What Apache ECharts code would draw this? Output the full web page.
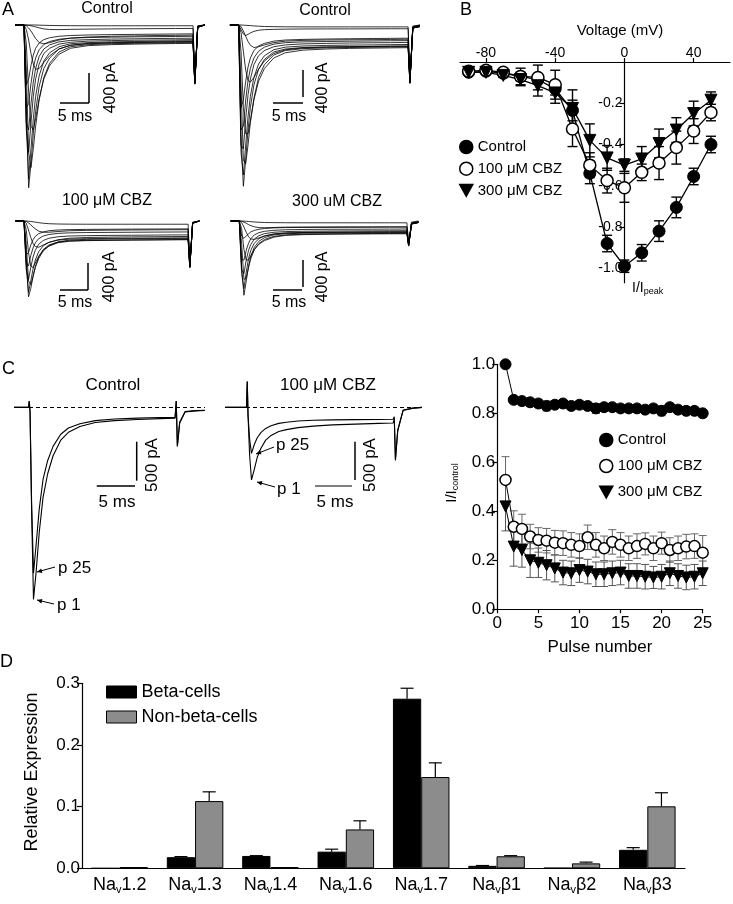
<!DOCTYPE html>
<html><head><meta charset="utf-8">
<script src="https://cdn.jsdelivr.net/npm/echarts@6/dist/echarts.min.js"></script>
<style>html,body{margin:0;padding:0;background:#fff}#c{width:733px;height:904px}</style>
</head><body><div id="c"></div>
<script>
// ---------------- DATA ----------------
// Panel A: Na+ current families (time in ms from step onset, current in pA)
const T_A = [-1.5, 0, 0.4, 0.8, 1.2, 1.6, 2.0, 2.6, 3.4, 4.4, 6, 8, 11, 15, 19, 23, 26, 29, 29.3, 29.8, 31];
const A_CTRL1 = [
  [0,0,-1100,-2170,-1850,-1450,-1150,-820,-580,-440,-320,-270,-250,-240,-235,-230,-228,-225,-790,-30,0],
  [0,0,-1300,-2050,-1650,-1250,-950,-680,-480,-370,-290,-250,-235,-225,-220,-215,-212,-210,-780,-30,0],
  [0,0,-600,-1700,-1900,-1650,-1350,-1000,-700,-510,-360,-290,-262,-250,-244,-240,-237,-235,-785,-30,0],
  [0,0,-1400,-1700,-1300,-950,-720,-520,-380,-310,-255,-230,-215,-208,-203,-200,-198,-195,-775,-30,0],
  [0,0,-1300,-1400,-1050,-760,-580,-420,-320,-265,-225,-205,-195,-188,-184,-180,-178,-176,-770,-25,0],
  [0,0,-1100,-1050,-780,-570,-440,-330,-260,-220,-190,-175,-167,-162,-158,-155,-153,-150,-765,-25,0],
  [0,0,-250,-900,-1350,-1400,-1250,-980,-720,-540,-390,-310,-275,-262,-255,-250,-247,-245,-785,-30,0],
  [0,0,-800,-720,-540,-400,-310,-240,-195,-170,-150,-140,-133,-128,-125,-122,-120,-118,-760,-20,0],
  [0,0,-60,-200,-380,-520,-590,-580,-500,-410,-320,-270,-245,-235,-230,-225,-222,-220,-770,-25,0],
  [0,0,-10,-40,-80,-130,-180,-235,-250,-235,-200,-175,-160,-150,-145,-140,-138,-135,-760,-20,0],
  [0,0,0,-5,-10,-18,-25,-38,-52,-60,-62,-58,-55,-52,-50,-48,-47,-46,-750,-15,0],
  [0,0,0,0,0,0,0,-2,-4,-6,-8,-9,-10,-10,-10,-10,-10,-10,-740,-10,0]
];
const A_CTRL2 = [
  [0,0,-1500,-2150,-1800,-1400,-1100,-800,-590,-460,-360,-320,-300,-292,-288,-285,-282,-280,-770,-40,-20],
  [0,0,-1700,-2000,-1600,-1220,-950,-700,-520,-410,-330,-295,-280,-272,-268,-265,-262,-260,-760,-40,-20],
  [0,0,-800,-1800,-1850,-1600,-1300,-980,-700,-530,-400,-340,-315,-305,-300,-296,-293,-290,-775,-40,-20],
  [0,0,-1600,-1650,-1250,-930,-720,-530,-410,-340,-290,-265,-252,-245,-240,-237,-235,-232,-755,-35,-15],
  [0,0,-1400,-1350,-1000,-740,-580,-440,-350,-295,-255,-235,-225,-220,-216,-213,-210,-208,-750,-35,-15],
  [0,0,-350,-1100,-1450,-1450,-1280,-1000,-750,-580,-440,-370,-335,-320,-312,-308,-305,-302,-780,-40,-20],
  [0,0,-1100,-1000,-750,-560,-440,-340,-280,-245,-215,-200,-192,-187,-183,-180,-178,-176,-745,-30,-10],
  [0,0,-100,-350,-600,-740,-760,-700,-590,-480,-380,-330,-305,-295,-290,-286,-284,-282,-770,-40,-20],
  [0,0,-20,-80,-150,-220,-270,-300,-290,-265,-235,-215,-205,-200,-197,-195,-193,-190,-760,-30,-10],
  [0,0,-60,-120,-140,-125,-105,-85,-70,-62,-58,-55,-53,-52,-52,-51,-50,-50,-740,-20,0],
  [0,0,0,-2,-4,-6,-8,-12,-16,-20,-22,-24,-25,-25,-25,-25,-25,-25,-735,-15,0]
];
const A_CBZ100 = [
  [0,0,-500,-1010,-900,-740,-610,-480,-380,-320,-280,-265,-258,-255,-252,-250,-248,-246,-620,-30,0],
  [0,0,-600,-950,-800,-640,-520,-410,-330,-285,-255,-242,-236,-232,-230,-228,-226,-225,-615,-30,0],
  [0,0,-300,-800,-850,-740,-620,-500,-400,-335,-290,-270,-262,-258,-255,-253,-251,-250,-620,-30,0],
  [0,0,-650,-780,-620,-480,-390,-310,-260,-230,-210,-200,-195,-192,-190,-188,-186,-185,-610,-25,0],
  [0,0,-550,-600,-460,-360,-290,-235,-200,-180,-165,-158,-154,-152,-150,-148,-147,-146,-605,-25,0],
  [0,0,-120,-420,-600,-620,-560,-470,-390,-330,-280,-255,-245,-240,-237,-235,-233,-232,-615,-30,0],
  [0,0,-450,-420,-320,-250,-205,-170,-145,-130,-120,-115,-112,-110,-108,-107,-106,-105,-600,-20,0],
  [0,0,-30,-120,-220,-300,-340,-350,-320,-285,-250,-230,-220,-215,-212,-210,-208,-206,-610,-25,0],
  [0,0,-5,-25,-50,-80,-105,-135,-150,-150,-140,-130,-125,-122,-120,-118,-117,-116,-600,-20,0],
  [0,0,0,-3,-6,-10,-15,-22,-30,-36,-40,-42,-43,-43,-43,-43,-43,-43,-595,-15,0]
];
const A_CBZ300 = [
  [0,0,-600,-990,-800,-600,-470,-350,-270,-220,-185,-170,-163,-160,-158,-156,-155,-154,-330,-40,-20],
  [0,0,-700,-900,-680,-500,-390,-295,-235,-198,-172,-160,-154,-151,-149,-147,-146,-145,-325,-40,-20],
  [0,0,-300,-780,-760,-620,-500,-380,-300,-245,-205,-185,-176,-172,-169,-167,-166,-165,-335,-40,-20],
  [0,0,-650,-700,-520,-390,-310,-240,-195,-168,-150,-141,-137,-134,-132,-131,-130,-129,-320,-35,-15],
  [0,0,-520,-520,-390,-295,-235,-185,-155,-137,-124,-117,-113,-111,-110,-109,-108,-107,-315,-35,-15],
  [0,0,-100,-380,-520,-520,-460,-380,-310,-260,-215,-192,-182,-177,-174,-172,-171,-170,-330,-40,-20],
  [0,0,-200,-230,-200,-170,-145,-125,-110,-100,-92,-88,-86,-85,-84,-83,-82,-82,-310,-30,-10],
  [0,0,-20,-80,-150,-210,-240,-245,-225,-200,-175,-160,-153,-150,-148,-146,-145,-144,-320,-35,-15],
  [0,0,-3,-15,-30,-48,-62,-78,-88,-90,-86,-82,-80,-79,-78,-78,-77,-77,-305,-25,-5],
  [0,0,0,-2,-4,-6,-9,-13,-17,-20,-22,-23,-24,-24,-24,-24,-24,-24,-300,-15,0]
];

// Panel B: I-V relationship
const B_VOLT = [-90,-80,-70,-60,-50,-40,-30,-20,-10,0,10,20,30,40,50];
const B_CTRL = [-0.05,-0.045,-0.055,-0.07,-0.085,-0.13,-0.235,-0.54,-0.88,-0.99,-0.925,-0.82,-0.705,-0.555,-0.40];
const B_CTRL_ERR = [0.01,0.01,0.01,0.02,0.02,0.03,0.05,0.05,0.04,0.03,0.04,0.05,0.05,0.04,0.04];
const B_CBZ100 = [-0.045,-0.04,-0.05,-0.07,-0.075,-0.11,-0.325,-0.50,-0.575,-0.61,-0.535,-0.49,-0.415,-0.335,-0.245];
const B_CBZ100_ERR = [0.01,0.01,0.01,0.04,0.06,0.07,0.085,0.06,0.06,0.07,0.04,0.08,0.08,0.06,0.04];
const B_CBZ300 = [-0.05,-0.05,-0.065,-0.085,-0.115,-0.15,-0.225,-0.38,-0.465,-0.50,-0.47,-0.395,-0.33,-0.25,-0.185];
const B_CBZ300_ERR = [0.01,0.01,0.01,0.03,0.05,0.05,0.09,0.08,0.06,0.03,0.06,0.07,0.06,0.06,0.04];
const B_X_TICKS = [-80,-40,0,40];
const B_Y_TICKS = [-1.0,-0.8,-0.6,-0.4,-0.2];

// Panel C: example traces (pulse 1 and pulse 25)
const T_C = [-3,-0.2,-0.1,0,0.2,0.45,0.8,1.2,1.7,2.3,3,4,5,6.5,8.5,11,14,17,18.9,19.05,19.2,19.5,20.2,21.5,22.8];
const C_CTRL_P1  = [0,0,80,-60,-1300,-2460,-2100,-1600,-1150,-850,-620,-420,-320,-245,-195,-170,-155,-145,-140,80,-500,-200,-60,-45,-40];
const C_CTRL_P25 = [0,0,80,-60,-1200,-2125,-1750,-1300,-920,-680,-500,-345,-265,-210,-170,-150,-138,-130,-128,80,-490,-190,-55,-42,-38];
const C_CBZ_P1   = [0,0,330,-100,-600,-930,-800,-640,-520,-420,-360,-310,-285,-260,-240,-225,-215,-205,-200,-150,-680,-300,-40,-10,0];
const C_CBZ_P25  = [0,0,330,-100,-400,-590,-480,-390,-320,-270,-235,-205,-190,-175,-165,-160,-157,-155,-152,-120,-660,-290,-35,-10,0];

// Panel C right: use-dependent block
const PULSE = [1,2,3,4,5,6,7,8,9,10,11,12,13,14,15,16,17,18,19,20,21,22,23,24,25];
const P_CTRL = [1.0,0.855,0.85,0.845,0.84,0.83,0.835,0.84,0.83,0.835,0.83,0.82,0.825,0.825,0.82,0.82,0.82,0.815,0.82,0.81,0.825,0.815,0.81,0.81,0.80];
const P_CTRL_ERR = [0,0.01,0.01,0.015,0.015,0.02,0.015,0.015,0.015,0.015,0.015,0.02,0.015,0.015,0.015,0.015,0.015,0.015,0.015,0.02,0.015,0.015,0.015,0.015,0.015];
const P_CBZ100 = [0.528,0.337,0.328,0.297,0.283,0.28,0.272,0.27,0.263,0.258,0.294,0.263,0.249,0.275,0.263,0.249,0.258,0.267,0.249,0.27,0.242,0.249,0.256,0.258,0.231];
const P_CBZ100_ERR = [0.095,0.065,0.06,0.05,0.05,0.05,0.05,0.05,0.05,0.05,0.05,0.05,0.05,0.05,0.05,0.05,0.05,0.045,0.05,0.045,0.05,0.05,0.05,0.05,0.07];
const P_CBZ300 = [0.42,0.256,0.242,0.20,0.19,0.18,0.167,0.15,0.147,0.16,0.154,0.143,0.143,0.147,0.15,0.136,0.136,0.133,0.13,0.133,0.147,0.136,0.13,0.133,0.147];
const P_CBZ300_ERR = [0.1,0.08,0.07,0.07,0.06,0.06,0.055,0.05,0.05,0.05,0.05,0.05,0.05,0.05,0.05,0.05,0.05,0.05,0.045,0.05,0.05,0.05,0.05,0.05,0.05];

// Panel D: expression
const D_CATS = ['Nav1.2','Nav1.3','Nav1.4','Nav1.6','Nav1.7','Navβ1','Navβ2','Navβ3'];
const D_BETA = [0, 0.018, 0.02, 0.027, 0.275, 0.004, 0.0005, 0.030];
const D_BETA_ERR = [0, 0.001, 0.0005, 0.004, 0.017, 0.0005, 0, 0.0035];
const D_NON = [0.002, 0.109, 0.002, 0.063, 0.148, 0.0195, 0.008, 0.1005];
const D_NON_ERR = [0, 0.015, 0, 0.014, 0.023, 0.001, 0.002, 0.022];

// ---------------- CHART ----------------
const FONT = '"Liberation Sans", Arial, Helvetica, sans-serif';
const BLACK = '#000';
const TRI = 'path://M0,0 L10,0 L5,9 Z';
const chart = echarts.init(document.getElementById('c'), null, {renderer:'canvas'});

const gridDefs = [
  {left:15,  top:17.5,  width:190, height:187.5},   // 0 A control 1
  {left:227, top:17.5,  width:193, height:187.5},   // 1 A control 2
  {left:13,  top:213.5, width:187, height:97.5},    // 2 A 100
  {left:230, top:213.5, width:188, height:97.5},    // 3 A 300
  {left:460, top:62,    width:270, height:220.7},   // 4 B
  {left:15,  top:380,   width:190, height:227.3},   // 5 C control
  {left:225, top:380,   width:195, height:227.3},   // 6 C 100
  {left:497.3, top:364.3, width:205.4, height:245}, // 7 C right
  {left:82,  top:683.3, width:603, height:185}      // 8 D
];
const grid = gridDefs.map(g => Object.assign({containLabel:false, outerBoundsMode:'none'}, g));

const hiddenX = [[-1.54,31.05],[-2.0,31.03],[-1.94,31.1],[-1.61,30.92]];
const axLine = {show:true, onZero:false, lineStyle:{color:BLACK, width:1.2}};
const axTick = {show:true, length:5, lineStyle:{color:BLACK, width:1.2}};
const lbl = (size, extra) => Object.assign({color:BLACK, fontSize:size, fontFamily:FONT}, extra||{});

const xAxis = [], yAxis = [];
for (let i=0;i<4;i++){
  xAxis.push({type:'value', gridIndex:i, min:hiddenX[i][0], max:hiddenX[i][1], show:false});
  yAxis.push({type:'value', gridIndex:i, min:i<2?-2400:-1200, max:100, show:false});
}
xAxis.push({type:'value', gridIndex:4, min:-95, max:61, position:'top',
  axisLine:axLine, axisTick:Object.assign({}, axTick, {length:4, customValues:B_X_TICKS}),
  axisLabel:lbl(14,{margin:2, customValues:B_X_TICKS}), splitLine:{show:false}});
// y axis of B sits on voltage 0: shift it from the grid's left edge by the width of the -95..0 span
yAxis.push({type:'value', gridIndex:4, min:-1.07, max:0, position:'left', offset:-(270*95/156),
  axisLine:{show:true, onZero:false, lineStyle:{color:BLACK, width:1.2}},
  axisTick:Object.assign({}, axTick, {customValues:B_Y_TICKS}),
  axisLabel:lbl(14,{margin:2, customValues:B_Y_TICKS, formatter:v=>v.toFixed(1)}), splitLine:{show:false}});
xAxis.push({type:'value', gridIndex:5, min:-1.96, max:22.8, show:false});
yAxis.push({type:'value', gridIndex:5, min:-2560, max:350, show:false});
xAxis.push({type:'value', gridIndex:6, min:-3.0, max:22.4, show:false});
yAxis.push({type:'value', gridIndex:6, min:-2560, max:350, show:false});
xAxis.push({type:'value', gridIndex:7, min:0, max:25, interval:5,
  axisLine:axLine, axisTick:Object.assign({}, axTick, {length:4}),
  axisLabel:lbl(17,{margin:6}), splitLine:{show:false}});
yAxis.push({type:'value', gridIndex:7, min:0, max:1, interval:0.2,
  axisLine:axLine, axisTick:axTick,
  axisLabel:lbl(17,{margin:2, formatter:v=>v.toFixed(1)}), splitLine:{show:false}});
xAxis.push({type:'category', gridIndex:8, data:D_CATS, boundaryGap:true,
  axisLine:axLine, axisTick:{show:false},
  axisLabel:{interval:0, margin:6, color:BLACK, fontFamily:FONT,
    formatter: v => '{a|Na}{b|v}{a|' + v.slice(3) + '}',
    rich:{a:{fontSize:18, fontFamily:FONT, color:BLACK}, b:{fontSize:11, fontFamily:FONT, color:BLACK, padding:[10,0,0,0]}}},
  splitLine:{show:false}});
yAxis.push({type:'value', gridIndex:8, min:0, max:0.3, interval:0.1,
  axisLine:axLine, axisTick:axTick,
  axisLabel:lbl(17,{margin:2, formatter:v=>v.toFixed(1)}), splitLine:{show:false}});

const series = [];
function traces(T, arr, idx, width){
  arr.forEach(tr => series.push({type:'line', xAxisIndex:idx, yAxisIndex:idx,
    data:T.map((t,j)=>[t, tr[j]]), symbol:'none', silent:true, clip:true,
    lineStyle:{color:BLACK, width:width}, z:2}));
}
traces(T_A, A_CTRL1, 0, 0.8);
traces(T_A, A_CTRL2, 1, 0.8);
traces(T_A, A_CBZ100, 2, 0.8);
traces(T_A, A_CBZ300, 3, 0.8);

function cTrace(idx, vals, withBase){
  const s = {type:'line', xAxisIndex:idx, yAxisIndex:idx, data:T_C.map((t,j)=>[t, vals[j]]),
    symbol:'none', silent:true, clip:true, lineStyle:{color:BLACK, width:1.1}, z:2};
  if (withBase) s.markLine = {silent:true, symbol:'none', label:{show:false},
    lineStyle:{type:[4,3], color:BLACK, width:1}, data:[{yAxis:0}]};
  series.push(s);
}
cTrace(5, C_CTRL_P1, true); cTrace(5, C_CTRL_P25, false);
cTrace(6, C_CBZ_P1, true);  cTrace(6, C_CBZ_P25, false);

function errRender(cap, color, width){
  return function(params, api){
    const x = api.value(0), lo = api.value(1), hi = api.value(2);
    const a = api.coord([x, hi]), b = api.coord([x, lo]);
    const st = () => ({stroke:color, lineWidth:width});
    return {type:'group', children:[
      {type:'line', shape:{x1:a[0],y1:a[1],x2:b[0],y2:b[1]}, style:st()},
      {type:'line', shape:{x1:a[0]-cap,y1:a[1],x2:a[0]+cap,y2:a[1]}, style:st()},
      {type:'line', shape:{x1:b[0]-cap,y1:b[1],x2:b[0]+cap,y2:b[1]}, style:st()}]};
  };
}
function errSeries(idx, xs, vs, es, cap, color, width){
  series.push({type:'custom', xAxisIndex:idx, yAxisIndex:idx, silent:true, z:1,
    encode:{x:0, y:[1,2]}, renderItem:errRender(cap, color, width),
    data: xs.map((x,i)=>[x, vs[i]-es[i], vs[i]+es[i]])});
}
const styles = {
  'Control':     {symbol:'circle', itemStyle:{color:BLACK, borderColor:BLACK, borderWidth:1}},
  '100 μM CBZ':  {symbol:'circle', itemStyle:{color:'#fff', borderColor:BLACK, borderWidth:1.5}},
  '300 μM CBZ':  {symbol:TRI,      itemStyle:{color:BLACK, borderColor:BLACK, borderWidth:1}}
};
function ptSeries(idx, name, xs, vs, size, lw){
  series.push(Object.assign({type:'line', name, xAxisIndex:idx, yAxisIndex:idx,
    data:xs.map((x,i)=>[x, vs[i]]), symbolSize:size, showSymbol:true,
    lineStyle:{color:BLACK, width:lw}, z:3}, styles[name]));
}
// B
errSeries(4, B_VOLT, B_CTRL, B_CTRL_ERR, 5, BLACK, 1.4);
errSeries(4, B_VOLT, B_CBZ100, B_CBZ100_ERR, 5, BLACK, 1.4);
errSeries(4, B_VOLT, B_CBZ300, B_CBZ300_ERR, 5, BLACK, 1.4);
ptSeries(4, 'Control', B_VOLT, B_CTRL, 12, 1.3);
ptSeries(4, '100 μM CBZ', B_VOLT, B_CBZ100, 12, 1.3);
ptSeries(4, '300 μM CBZ', B_VOLT, B_CBZ300, 12, 1.3);
// C right
errSeries(7, PULSE, P_CTRL, P_CTRL_ERR, 4, '#333', 1);
errSeries(7, PULSE, P_CBZ100, P_CBZ100_ERR, 4, '#666', 1);
errSeries(7, PULSE, P_CBZ300, P_CBZ300_ERR, 4, '#555', 1);
ptSeries(7, 'Control', PULSE, P_CTRL, 11, 1);
ptSeries(7, '100 μM CBZ', PULSE, P_CBZ100, 11, 1);
ptSeries(7, '300 μM CBZ', PULSE, P_CBZ300, 11, 1);
// D
series.push({type:'bar', name:'Beta-cells', xAxisIndex:8, yAxisIndex:8, data:D_BETA,
  barWidth:'37.5%', barGap:'0%', itemStyle:{color:BLACK, borderColor:BLACK, borderWidth:1}, z:2});
series.push({type:'bar', name:'Non-beta-cells', xAxisIndex:8, yAxisIndex:8, data:D_NON,
  barWidth:'37.5%', barGap:'0%', itemStyle:{color:'#8c8c8c', borderColor:BLACK, borderWidth:1}, z:2});
function dErr(vals, errs, side){
  series.push({type:'custom', xAxisIndex:8, yAxisIndex:8, silent:true, z:3, encode:{x:0, y:[1,2]},
    data: vals.map((v,i)=>[i, v, v+errs[i], side]),
    renderItem:(params, api)=>{
      const i = api.value(0), v = api.value(1), top = api.value(2), sd = api.value(3);
      if (top - v <= 0) return null;
      const band = api.size([1,0])[0];
      const p = api.coord([i, v]), q = api.coord([i, top]);
      const x = p[0] + sd*band*0.1875, cap = 6.5;
      return {type:'group', children:[
        {type:'line', shape:{x1:x,y1:p[1],x2:x,y2:q[1]}, style:{stroke:BLACK, lineWidth:1.2}},
        {type:'line', shape:{x1:x-cap,y1:q[1],x2:x+cap,y2:q[1]}, style:{stroke:BLACK, lineWidth:1.2}}]};
    }});
}
dErr(D_BETA, D_BETA_ERR, -1);
dErr(D_NON, D_NON_ERR, 1);

const legendNames = [{name:'Control', icon:'circle'}, {name:'100 μM CBZ', icon:'circle'}, {name:'300 μM CBZ', icon:TRI}];
const legend = [
  {left:459, top:139.5, orient:'vertical', padding:0, itemWidth:13, itemHeight:13, itemGap:6.7, selectedMode:false,
   itemStyle:{borderWidth:1.5}, textStyle:{fontSize:15, color:BLACK, fontFamily:FONT}, data:legendNames},
  {left:599, top:432.5, orient:'vertical', padding:0, itemWidth:13, itemHeight:13, itemGap:11, selectedMode:false,
   itemStyle:{borderWidth:1.5}, textStyle:{fontSize:15, color:BLACK, fontFamily:FONT}, data:legendNames},
  {left:106, top:683, orient:'vertical', padding:0, itemWidth:30, itemHeight:12, itemGap:7, selectedMode:false,
   itemStyle:{borderWidth:1}, textStyle:{fontSize:18, color:BLACK, fontFamily:FONT},
   data:[{name:'Beta-cells', icon:'rect'}, {name:'Non-beta-cells', icon:'rect'}]}
];

// ---------------- ANNOTATIONS ----------------
const G = [];
function txt(x, y, text, size, o){
  o = o || {};
  G.push({type:'text', x, y, rotation:o.rot||0, silent:true,
    style:{text, fontSize:size, fontFamily:FONT, fill:BLACK, align:o.align||'center',
      verticalAlign:o.va||'middle', rich:o.rich}});
}
function seg(x1,y1,x2,y2,w){ G.push({type:'line', silent:true, shape:{x1,y1,x2,y2}, style:{stroke:BLACK, lineWidth:w||1.5}}); }
function arrow(x1,y1,x2,y2){
  seg(x1,y1,x2,y2,1);
  const dx=x2-x1, dy=y2-y1, L=Math.hypot(dx,dy), ux=dx/L, uy=dy/L, h=5, w=2.3;
  const bx=x2-ux*h, by=y2-uy*h;
  G.push({type:'polygon', silent:true, shape:{points:[[x2,y2],[bx-uy*w,by+ux*w],[bx+uy*w,by-ux*w]]}, style:{fill:BLACK}});
}
const R90 = Math.PI/2;
// panel letters
txt(2, 10, 'A', 18, {align:'left'}); txt(460, 10, 'B', 18, {align:'left'});
txt(2, 369, 'C', 18, {align:'left'}); txt(0, 662, 'D', 18, {align:'left'});
// A titles and scale bars
txt(107, 9, 'Control', 16); txt(325, 11, 'Control', 16);
txt(107, 200.5, '100 μM CBZ', 16); txt(337, 202, '300 uM CBZ', 16);
seg(60,103,89,103); seg(89,73,89,103); txt(75,117,'5 ms',16); txt(110.5,88,'400 pA',16,{rot:R90});
seg(273,103,303,103); seg(303,70,303,97); txt(289,117,'5 ms',16); txt(323,88,'400 pA',16,{rot:R90});
seg(60,290,88,290); seg(88,263,88,290); txt(75,303,'5 ms',16); txt(110,277,'400 pA',16,{rot:R90});
seg(273,290,302,290); seg(303,260,303,287); txt(289,303,'5 ms',16); txt(323,277,'400 pA',16,{rot:R90});
// B labels
txt(620, 31, 'Voltage (mV)', 15);
txt(632, 288, 'I/I{s|peak}', 14, {align:'left', rich:{s:{fontSize:9, fontFamily:FONT, fill:BLACK, padding:[7,0,0,0]}}});
// C left annotations
txt(113, 385.5, 'Control', 17); txt(328, 385.5, '100 μM CBZ', 17);
seg(96.7,486,135,486); seg(136.7,441.7,136.7,480.7); txt(117,502,'5 ms',17); txt(152,465,'500 pA',17,{rot:R90});
seg(315,486,352,486,1.1); seg(355,441.7,355,480,1.5); txt(335,502,'5 ms',17); txt(370,465,'500 pA',17,{rot:R90});
txt(58,568,'p 25',17,{align:'left'}); arrow(55,567,37,572);
txt(57,605,'p 1',17,{align:'left'}); arrow(54,604,37,600);
txt(276,445.5,'p 25',17,{align:'left'}); arrow(274,447,256,454);
txt(277,489,'p 1',17,{align:'left'}); arrow(275,487,257,482);
// C right labels
txt(600, 647, 'Pulse number', 17);
txt(452, 483, 'I/I{s|control}', 15, {rot:R90, rich:{s:{fontSize:9, fontFamily:FONT, fill:BLACK, padding:[7,0,0,0]}}});
// D label
txt(32, 772, 'Relative Expression', 18, {rot:R90});

chart.setOption({
  animation:false, backgroundColor:'#fff',
  textStyle:{fontFamily:FONT, color:BLACK},
  grid, xAxis, yAxis, series, legend, graphic:G
});
</script></body></html>
